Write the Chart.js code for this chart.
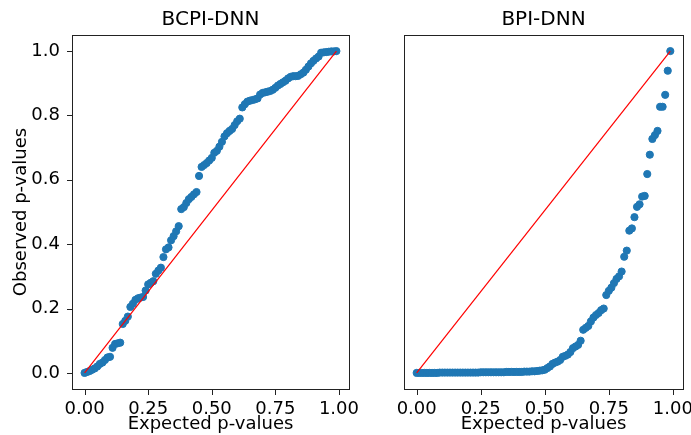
<!DOCTYPE html>
<html>
<head>
<meta charset="utf-8">
<script src="https://cdn.jsdelivr.net/npm/chart.js@4.4.1/dist/chart.umd.min.js"></script>
<style>
  html, body { margin: 0; padding: 0; background: #fff; }
  #wrap { position: relative; width: 691px; height: 435px; overflow: hidden; }
  canvas { position: absolute; top: 0; }
  #c_left { left: 0; }
  #c_right { left: 360px; }
  .spine { position: absolute; box-sizing: border-box; }
</style>
</head>
<body>
<div id="wrap">
  <canvas id="c_left" width="360" height="435"></canvas>
  <canvas id="c_right" width="331" height="435"></canvas>
</div>
<script>
// expected p-values (x), shared by both panels
const EXPECTED = [
  0.00, 0.01, 0.02, 0.03, 0.04, 0.05, 0.06, 0.07, 0.08, 0.09,
  0.10, 0.11, 0.12, 0.13, 0.14, 0.15, 0.16, 0.17, 0.18, 0.19,
  0.20, 0.21, 0.22, 0.23, 0.24, 0.25, 0.26, 0.27, 0.28, 0.29,
  0.30, 0.31, 0.32, 0.33, 0.34, 0.35, 0.36, 0.37, 0.38, 0.39,
  0.40, 0.41, 0.42, 0.43, 0.44, 0.45, 0.46, 0.47, 0.48, 0.49,
  0.50, 0.51, 0.52, 0.53, 0.54, 0.55, 0.56, 0.57, 0.58, 0.59,
  0.60, 0.61, 0.62, 0.63, 0.64, 0.65, 0.66, 0.67, 0.68, 0.69,
  0.70, 0.71, 0.72, 0.73, 0.74, 0.75, 0.76, 0.77, 0.78, 0.79,
  0.80, 0.81, 0.82, 0.83, 0.84, 0.85, 0.86, 0.87, 0.88, 0.89,
  0.90, 0.91, 0.92, 0.93, 0.94, 0.95, 0.96, 0.97, 0.98, 0.99
];

// observed p-values, BCPI-DNN (left panel)
const OBS_BCPI = [
  0.000, 0.003, 0.006, 0.010, 0.014, 0.020, 0.028, 0.032, 0.040, 0.048,
  0.050, 0.078, 0.090, 0.092, 0.094, 0.152, 0.162, 0.175, 0.205, 0.215,
  0.227, 0.232, 0.234, 0.236, 0.256, 0.275, 0.280, 0.285, 0.308, 0.318,
  0.327, 0.360, 0.384, 0.390, 0.412, 0.425, 0.440, 0.456, 0.509, 0.515,
  0.528, 0.540, 0.547, 0.555, 0.562, 0.612, 0.640, 0.646, 0.652, 0.660,
  0.668, 0.684, 0.690, 0.703, 0.718, 0.735, 0.745, 0.752, 0.758, 0.770,
  0.782, 0.790, 0.825, 0.835, 0.843, 0.846, 0.848, 0.850, 0.853, 0.865,
  0.870, 0.872, 0.874, 0.876, 0.880, 0.886, 0.893, 0.898, 0.903, 0.908,
  0.915, 0.920, 0.922, 0.922, 0.923, 0.928, 0.933, 0.942, 0.952, 0.962,
  0.970, 0.977, 0.983, 0.995, 0.996, 0.997, 0.998, 0.999, 0.999, 1.000
];

// observed p-values, BPI-DNN (right panel)
const OBS_BPI = [
  0.000, 0.000, 0.000, 0.000, 0.000, 0.000, 0.000, 0.000, 0.000, 0.001,
  0.001, 0.001, 0.001, 0.001, 0.001, 0.001, 0.001, 0.001, 0.001, 0.001,
  0.001, 0.001, 0.001, 0.001, 0.001, 0.002, 0.002, 0.002, 0.002, 0.002,
  0.002, 0.002, 0.002, 0.002, 0.002, 0.003, 0.003, 0.003, 0.003, 0.003,
  0.003, 0.003, 0.004, 0.004, 0.004, 0.005, 0.005, 0.006, 0.007, 0.008,
  0.010, 0.015, 0.020, 0.028, 0.032, 0.035, 0.040, 0.050, 0.053, 0.057,
  0.065, 0.077, 0.082, 0.087, 0.100, 0.134, 0.140, 0.146, 0.160, 0.172,
  0.180, 0.186, 0.195, 0.200, 0.242, 0.255, 0.265, 0.279, 0.292, 0.300,
  0.315, 0.361, 0.380, 0.442, 0.449, 0.484, 0.516, 0.524, 0.548, 0.550,
  0.618, 0.678, 0.727, 0.739, 0.752, 0.827, 0.827, 0.864, 0.939, 1.000
];

// reference diagonal
const DIAG_X = [0.00, 0.99];
const DIAG_Y = [0.00, 1.00];

const X_TICKS = [0, 0.25, 0.5, 0.75, 1.0];
const Y_TICKS = [0, 0.2, 0.4, 0.6, 0.8, 1.0];

const FONT_FAMILY = "'DejaVu Sans', sans-serif";
const TICK_FONT = { family: FONT_FAMILY, size: 18 };
const TITLE_FONT = { family: FONT_FAMILY, size: 20, weight: "normal" };
const AXIS_COLOR = "#222";
const TICK_LEN = 5;

function toPoints(xs, ys) {
  return xs.map((x, i) => ({ x: x, y: ys[i] }));
}

function fixTicks(values) {
  return (scale) => { scale.ticks = values.map(v => ({ value: v })); };
}

function createPanel(canvasId, title, observed, showY, padding) {
  return new Chart(document.getElementById(canvasId), {
    type: "scatter",
    data: {
      datasets: [
        {
          type: "line",
          data: toPoints(DIAG_X, DIAG_Y),
          borderColor: "#ff0000",
          borderWidth: 1.2,
          pointRadius: 0,
        },
        {
          data: toPoints(EXPECTED, observed),
          pointRadius: 3.6,
          backgroundColor: "#1f77b4",
          borderColor: "#1f77b4",
        },
      ],
    },
    options: {
      responsive: false,
      animation: false,
      devicePixelRatio: 1,
      layout: { padding: padding },
      plugins: {
        legend: { display: false },
        tooltip: { enabled: false },
        title: {
          display: true, text: title, font: TITLE_FONT, color: "#000",
          fullSize: false, padding: { top: 8, bottom: 3 },
        },
      },
      scales: {
        x: {
          min: -0.0495, max: 1.0395,
          afterBuildTicks: fixTicks(X_TICKS),
          afterFit: (s) => { s.height = 46; s.paddingLeft = 0; s.paddingRight = 0; },
          ticks: {
            font: TICK_FONT, color: "#000", padding: 2, maxRotation: 0,
            callback: (v) => Number(v).toFixed(2),
          },
          grid: { display: false },
          border: { display: false },
          title: { display: true, text: "Expected p-values", font: TICK_FONT, color: "#000", padding: { top: 0, bottom: 0 } },
        },
        y: {
          display: showY,
          min: -0.05, max: 1.05,
          afterBuildTicks: fixTicks(Y_TICKS),
          afterFit: (s) => { if (showY) s.width = 72; },
          ticks: {
            font: TICK_FONT, color: "#000", padding: 4,
            callback: (v) => Number(v).toFixed(1),
          },
          grid: { display: false },
          border: { display: false },
          title: { display: true, text: "Observed p-values", font: TICK_FONT, color: "#000", padding: { top: 11, bottom: 0 } },
        },
      },
    },
  });
}

// spines and outward tick marks as page elements placed from the chart's own scales
function addFrame(chart, offsetX, showY) {
  const wrap = document.getElementById("wrap");
  const a = chart.chartArea;
  if (!a) return;
  const L = Math.round(a.left) + offsetX, R = Math.round(a.right) + offsetX;
  const T = Math.round(a.top), B = Math.round(a.bottom);
  const mk = (x, y, w, h, box) => {
    const d = document.createElement("div");
    d.className = "spine";
    d.style.left = x + "px";
    d.style.top = y + "px";
    d.style.width = w + "px";
    d.style.height = h + "px";
    if (box) d.style.border = "1px solid " + AXIS_COLOR;
    else d.style.background = AXIS_COLOR;
    wrap.appendChild(d);
  };
  mk(L, T, R - L + 1, B - T + 1, true);
  X_TICKS.forEach(v => {
    mk(Math.round(chart.scales.x.getPixelForValue(v)) + offsetX, B + 1, 1, TICK_LEN, false);
  });
  if (showY) {
    Y_TICKS.forEach(v => {
      mk(L - TICK_LEN, Math.round(chart.scales.y.getPixelForValue(v)), TICK_LEN, 1, false);
    });
  }
}

const leftChart = createPanel("c_left", "BCPI-DNN", OBS_BCPI, true, { left: 0, top: 0, right: 11, bottom: 0 });
const rightChart = createPanel("c_right", "BPI-DNN", OBS_BPI, false, { left: 44, top: 0, right: 8, bottom: 0 });
addFrame(leftChart, 0, true);
addFrame(rightChart, 360, false);
</script>
</body>
</html>
